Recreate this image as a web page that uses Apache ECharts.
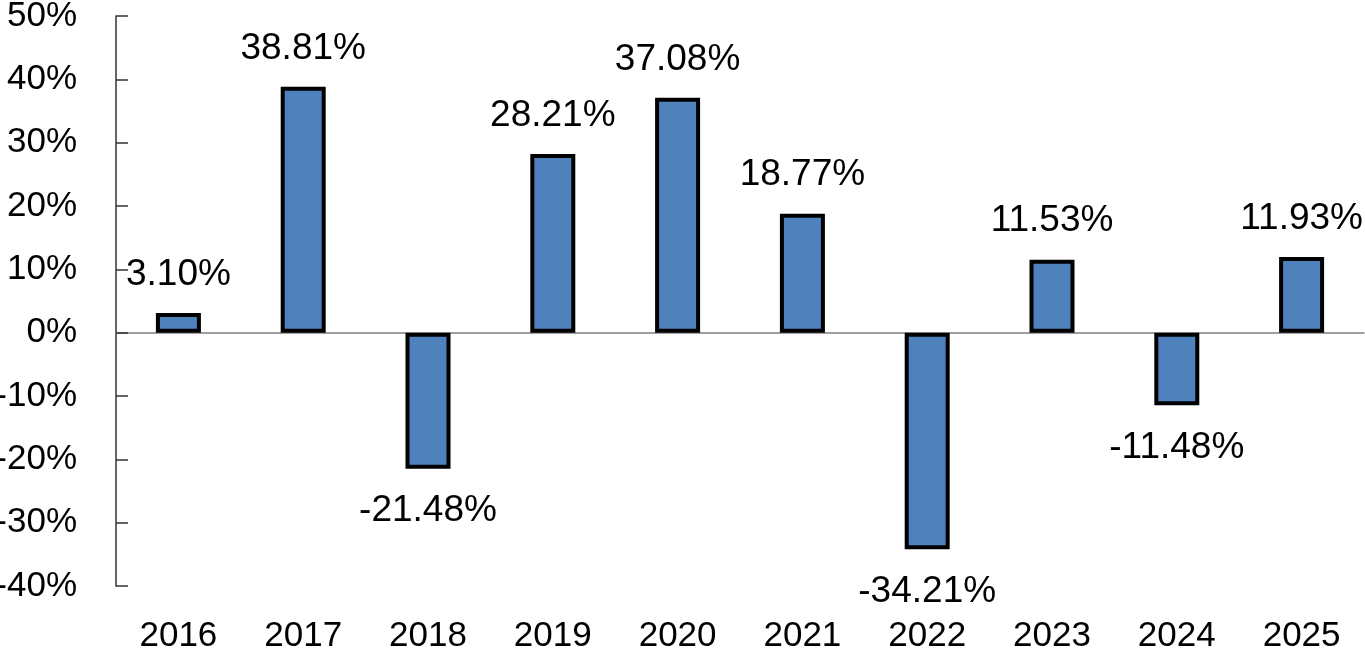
<!DOCTYPE html>
<html>
<head>
<meta charset="utf-8">
<script src="https://cdn.jsdelivr.net/npm/echarts@6/dist/echarts.min.js"></script>
<style>
  html, body { margin: 0; padding: 0; background: #fff; overflow: hidden; }
  #main { width: 1365px; height: 650px; }
</style>
</head>
<body>
<div id="main"></div>
<script>
var years = ['2016', '2017', '2018', '2019', '2020', '2021', '2022', '2023', '2024', '2025'];
var returns = [3.10, 38.81, -21.48, 28.21, 37.08, 18.77, -34.21, 11.53, -11.48, 11.93];
var yMin = -40, yMax = 50, yStep = 10;

var font = "'Liberation Sans', Arial, sans-serif";
var axisSize = 35;

var barData = returns.map(function (v) {
    return {
        value: v,
        label: v >= 0 ? { position: 'top', distance: 20 } : { position: 'bottom', distance: 24 }
    };
});

var myChart = echarts.init(document.getElementById('main'));
myChart.setOption({
    animation: false,
    grid: { left: 116, right: 1, top: 16, bottom: 64, outerBoundsMode: 'none', containLabel: false },
    xAxis: [{
        type: 'category',
        data: years,
        position: 'top',
        axisLine: { onZero: true, lineStyle: { color: '#808080', width: 1.5 } },
        axisTick: { inside: true, length: 12, lineStyle: { color: '#808080', width: 1.5 } },
        axisLabel: { show: false }
    }, {
        type: 'category',
        data: years,
        position: 'bottom',
        axisLine: { show: false, onZero: false },
        axisTick: { show: false },
        axisLabel: { margin: 33, color: '#000', fontSize: axisSize, fontFamily: font }
    }],
    yAxis: {
        type: 'value',
        min: yMin,
        max: yMax,
        interval: yStep,
        splitLine: { show: false },
        axisLine: { show: true, lineStyle: { color: '#333', width: 1.5 } },
        axisTick: { show: true, inside: true, length: 12, lineStyle: { color: '#333', width: 1.5 } },
        axisLabel: {
            margin: 39, color: '#000', fontSize: axisSize, fontFamily: font,
            formatter: function (v) { return v + '%'; }
        }
    },
    series: [{
        type: 'bar',
        xAxisIndex: 0,
        data: barData,
        barWidth: 45,
        itemStyle: { color: '#4F81BD', borderColor: '#000', borderWidth: 4 },
        label: {
            show: true,
            color: '#000',
            fontSize: 37,
            fontFamily: font,
            formatter: function (p) { return p.value.toFixed(2) + '%'; }
        }
    }]
});
</script>
</body>
</html>
